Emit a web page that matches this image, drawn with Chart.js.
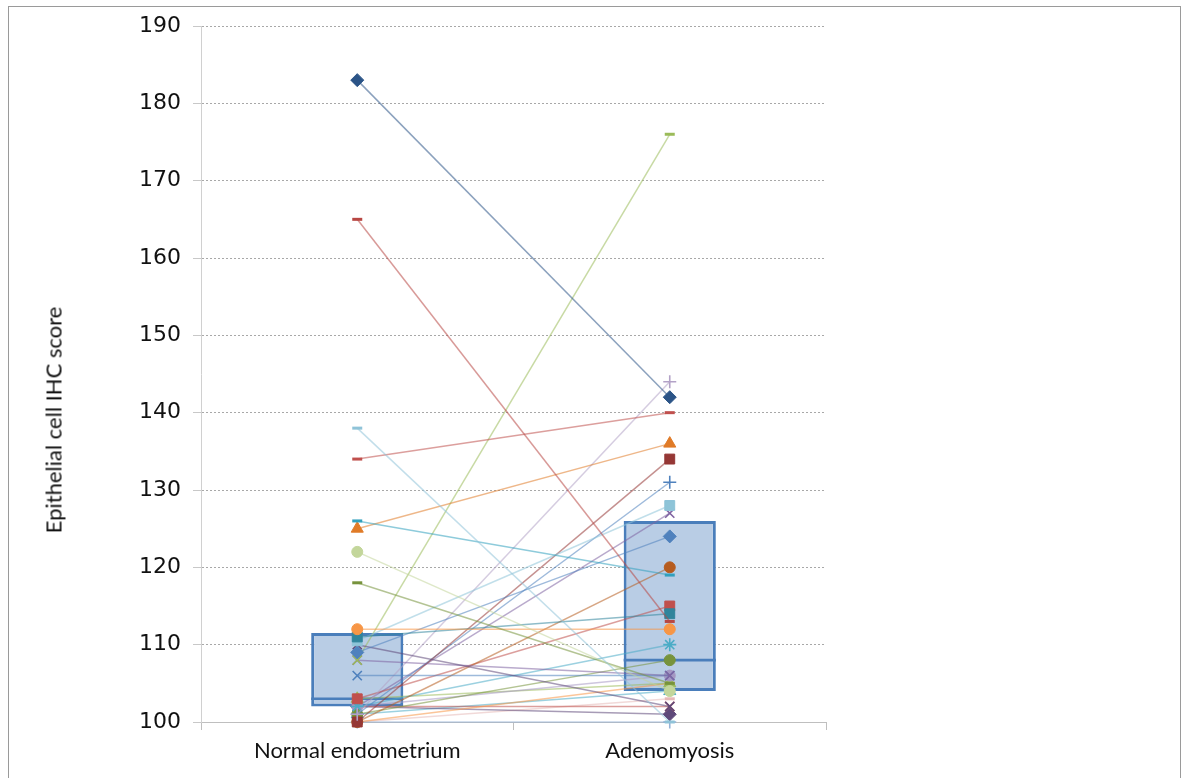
<!DOCTYPE html>
<html>
<head>
<meta charset="utf-8">
<script src="https://cdn.jsdelivr.net/npm/chart.js@4.4.1/dist/chart.umd.min.js"></script>
<style>
  html, body { margin: 0; padding: 0; background: #fff; width: 1187px; height: 778px; overflow: hidden; }
  #frame { position: absolute; left: 8px; top: 6px; width: 1173px; height: 800px; border: 1px solid #9a9a9a; box-sizing: border-box; }
  #wrap { position: absolute; left: 0; top: 0; width: 1187px; height: 778px; }
  #ytitle { position: absolute; left: 53px; top: 420px; transform: translate(-50%, -50%) rotate(-90deg);
            font: 22px Lato, "Open Sans", sans-serif; white-space: nowrap; color: #111; }
</style>
</head>
<body>
<div id="frame"></div>
<div id="wrap"><canvas id="c" width="1187" height="778"></canvas></div>
<div id="ytitle">Epithelial cell IHC score</div>
<script>
// Tissue groups on the x axis
const categories = ['Normal endometrium', 'Adenomyosis'];

// Paired epithelial IHC scores, one entry per patient
const normalScores = [183, 165, 138, 134, 126, 125, 122, 118, 112, 111, 110.5, 109, 110, 108, 108, 106,
                      101, 100, 101, 100, 103, 102, 101, 102, 103, 100, 102, 102, 100, 102, 100, 101];
const adenomyosisScores = [142, 113, 100, 140, 119, 136, 104, 105, 112, 114, 128, 124, 102, 176, 106, 106,
                           144, 134, 131, 120, 115, 110, 108, 106, 105, 105, 102, 101, 100, 127, 103, 104];

// Box summaries per group
const boxQ1 = [102, 104];
const boxMedian = [103, 108];
const boxQ3 = [111.5, 126];

// Y axis range
const yMin = 100, yMax = 190, yStep = 10;

// Appearance of each patient's series
const seriesColors = ['#2b5487', '#b84743', '#8fc3d8', '#c0504d', '#31a0bd', '#e07b28', '#c3d69b', '#77933c',
                      '#f79646', '#31859c', '#8ec4d8', '#4f81bd', '#5f497a', '#9bbb59', '#8064a2', '#4f81bd',
                      '#b3a2c7', '#953735', '#4f81bd', '#b65c1f', '#c0504d', '#4bacc6', '#77933c', '#a597c2',
                      '#9bbb59', '#f79646', '#c0504d', '#5f497a', '#95b3d7', '#8064a2', '#e6b9b8', '#4bacc6'];
const seriesMarkers = ['rectRot', 'line', 'line', 'line', 'line', 'triangle', 'circle', 'line',
                       'circle', 'rect', 'rect', 'rectRot', 'crossRot', ['crossRot', 'line'], 'crossRot', 'crossRot',
                       'cross', 'rect', 'cross', 'circle', 'rect', 'star', 'circle', 'circle',
                       'triangle', 'line', 'crossRot', 'rectRot', 'cross', 'crossRot', 'line', 'triangle'];

function markerSize(style) {
  switch (style) {
    case 'rectRot': return [6.5, 1];
    case 'rect': return [7, 1];
    case 'triangle': return [7, 1];
    case 'circle': return [5.5, 1];
    case 'line': return [5, 3];
    case 'star': return [6.5, 1.6];
    default: return [6.5, 1.6];
  }
}

function fade(hex, a) {
  const n = parseInt(hex.slice(1), 16);
  return `rgba(${(n >> 16) & 255},${(n >> 8) & 255},${n & 255},${a})`;
}

const pairDatasets = normalScores.map((n, i) => {
  const styles = Array.isArray(seriesMarkers[i]) ? seriesMarkers[i] : [seriesMarkers[i], seriesMarkers[i]];
  const sizes = styles.map(markerSize);
  return {
    type: 'line',
    label: 'Patient ' + (i + 1),
    data: [n, adenomyosisScores[i]],
    borderColor: fade(seriesColors[i], 0.55),
    borderWidth: 1.5,
    pointStyle: styles,
    pointRadius: sizes.map(s => s[0]),
    pointBorderWidth: sizes.map(s => s[1]),
    pointBackgroundColor: seriesColors[i],
    pointBorderColor: seriesColors[i],
    fill: false,
    tension: 0,
    clip: false,
    order: 0
  };
});

const boxDataset = {
  type: 'bar',
  label: 'IQR',
  data: boxQ1.map((q, i) => [q, boxQ3[i]]),
  backgroundColor: '#b9cde5',
  borderColor: '#4a7ebb',
  borderWidth: 3,
  borderSkipped: false,
  grouped: false,
  barPercentage: 0.295,
  categoryPercentage: 1,
  order: 20
};

const medianDataset = {
  type: 'bar',
  label: 'Median',
  data: boxMedian.map(m => [m - 0.17, m + 0.17]),
  backgroundColor: '#4a7ebb',
  borderWidth: 0,
  grouped: false,
  barPercentage: 0.295,
  categoryPercentage: 1,
  order: 10
};

new Chart(document.getElementById('c'), {
  data: { labels: categories, datasets: [boxDataset, medianDataset, ...pairDatasets] },
  options: {
    responsive: false,
    devicePixelRatio: 1,
    animation: false,
    layout: { padding: { left: 8, right: 361, top: 26, bottom: 0 } },
    plugins: { legend: { display: false }, tooltip: { enabled: false } },
    scales: {
      x: {
        type: 'category',
        offset: true,
        grid: { offset: true, drawOnChartArea: false, drawTicks: true, tickLength: 8, color: '#bfbfbf' },
        border: { color: '#bfbfbf', width: 1 },
        ticks: { font: { family: 'Lato', size: 22 }, color: '#111', padding: 8 },
        afterFit(s) { s.height = 56; }
      },
      y: {
        min: yMin, max: yMax,
        ticks: { stepSize: yStep, font: { family: 'DejaVu Sans', size: 22 }, color: '#111', padding: 12 },
        grid: { color: '#a8a8a8', tickLength: 8, tickColor: '#c8c8c8', tickBorderDash: [] },
        border: { color: '#d0d0d0', width: 1, dash: [2, 2] },
        afterFit(s) { s.width = 193; }
      }
    }
  }
});
</script>
</body>
</html>
